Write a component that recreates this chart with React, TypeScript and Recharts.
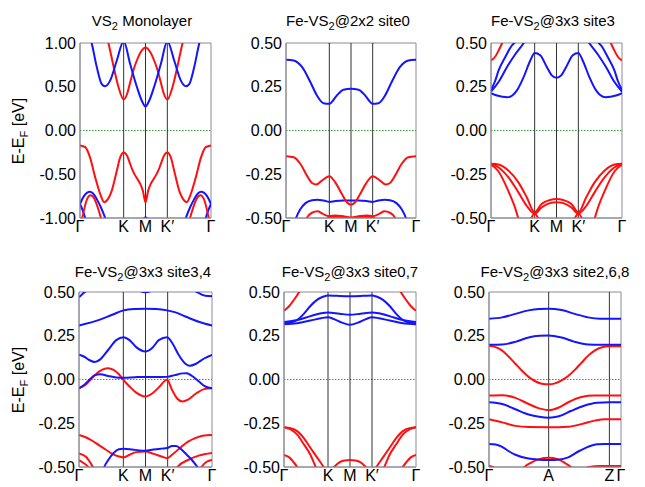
import React from "react";
import { LineChart, Line, XAxis, YAxis, ReferenceLine, ReferenceArea } from "recharts";

type Pt = [number, number];

const RED = "#ff1010";
const BLUE = "#1414ff";
const FONT = "'Liberation Sans', Arial, sans-serif";

const HEX_TICKS = [0, 1 / 3, 0.5, 2 / 3, 1];
const HEX_LABELS = ["Γ", "K", "M", "K′", "Γ"];
const HEX_LINES = [1 / 3, 0.5, 2 / 3];
const CHAIN_TICKS = [0, 0.452, 0.912, 1];
const CHAIN_LABELS = ["Γ", "A", "Z", "Γ"];
const CHAIN_LINES = [0.452, 0.912];
const WIDE_TICKS = [-1, -0.5, 0, 0.5, 1];
const NARROW_TICKS = [-0.5, -0.25, 0, 0.25, 0.5];

// VS2 monolayer
const monoRedVal: Pt[] = [[0, -0.17], [0.04, -0.19], [0.077, -0.31], [0.115, -0.53], [0.153, -0.72], [0.185, -0.82], [0.205, -0.8], [0.242, -0.69], [0.281, -0.46], [0.306, -0.31], [0.333, -0.25], [0.36, -0.29], [0.38, -0.37], [0.4, -0.45], [0.42, -0.51], [0.44, -0.56], [0.46, -0.61], [0.48, -0.69], [0.5, -0.82], [0.52, -0.69], [0.54, -0.61], [0.56, -0.56], [0.58, -0.51], [0.6, -0.45], [0.62, -0.37], [0.64, -0.29], [0.667, -0.25], [0.694, -0.31], [0.719, -0.46], [0.758, -0.69], [0.795, -0.8], [0.815, -0.82], [0.847, -0.72], [0.885, -0.53], [0.923, -0.31], [0.96, -0.19], [1, -0.17]];
const monoRedCond: Pt[] = [[0.19, 1.15], [0.217, 1.0], [0.255, 0.74], [0.293, 0.5], [0.333, 0.355], [0.36, 0.42], [0.383, 0.55], [0.41, 0.7], [0.434, 0.8], [0.465, 0.9], [0.5, 0.95], [0.535, 0.9], [0.566, 0.8], [0.59, 0.7], [0.617, 0.55], [0.64, 0.42], [0.667, 0.355], [0.707, 0.5], [0.745, 0.74], [0.783, 1.0], [0.81, 1.15]];
const monoBlueCond: Pt[] = [[0.07, 1.1], [0.089, 1.0], [0.128, 0.725], [0.166, 0.53], [0.191, 0.505], [0.23, 0.57], [0.281, 0.8], [0.333, 1.02], [0.383, 0.76], [0.434, 0.5], [0.472, 0.34], [0.5, 0.275], [0.528, 0.34], [0.566, 0.5], [0.617, 0.76], [0.667, 1.02], [0.719, 0.8], [0.77, 0.57], [0.809, 0.505], [0.834, 0.53], [0.872, 0.725], [0.911, 1.0], [0.93, 1.1]];
const monoBlueValL: Pt[] = [[0, -0.84], [0.03, -0.75], [0.055, -0.71], [0.075, -0.7], [0.1, -0.72], [0.13, -0.79], [0.16, -0.88], [0.19, -0.99], [0.21, -1.07]];
const monoBlueValR: Pt[] = [[0.79, -1.07], [0.81, -0.99], [0.84, -0.88], [0.87, -0.79], [0.9, -0.72], [0.925, -0.7], [0.945, -0.71], [0.97, -0.75], [1, -0.84]];
const monoBlueLowL: Pt[] = [[0, -0.84], [0.02, -0.91], [0.04, -1.0], [0.06, -1.1]];
const monoBlueLowR: Pt[] = [[0.94, -1.1], [0.96, -1.0], [0.98, -0.91], [1, -0.84]];
const monoRedLowL: Pt[] = [[0, -1.12], [0.02, -0.98], [0.05, -0.8], [0.08, -0.74], [0.11, -0.78], [0.14, -0.9], [0.16, -1.0], [0.18, -1.1]];
const monoRedLowR: Pt[] = [[0.82, -1.1], [0.84, -1.0], [0.86, -0.9], [0.89, -0.78], [0.92, -0.74], [0.95, -0.8], [0.98, -0.98], [1, -1.12]];
const monoBlueM: Pt[] = [[0.44, -1.1], [0.5, -0.995], [0.56, -1.1]];

// Fe-VS2@2x2 site0
const s0Blue1: Pt[] = [[0, 0.405], [0.059, 0.4], [0.123, 0.363], [0.187, 0.277], [0.238, 0.2], [0.289, 0.156], [0.333, 0.153], [0.391, 0.2], [0.442, 0.233], [0.5, 0.239], [0.558, 0.233], [0.609, 0.2], [0.667, 0.153], [0.711, 0.156], [0.762, 0.2], [0.813, 0.277], [0.877, 0.363], [0.941, 0.4], [1, 0.405]];
const s0Red1: Pt[] = [[0, -0.147], [0.059, -0.153], [0.11, -0.19], [0.161, -0.258], [0.2, -0.3], [0.233, -0.309], [0.276, -0.286], [0.333, -0.261], [0.379, -0.296], [0.43, -0.363], [0.468, -0.41], [0.5, -0.424], [0.532, -0.41], [0.57, -0.363], [0.621, -0.296], [0.667, -0.261], [0.724, -0.286], [0.767, -0.309], [0.8, -0.3], [0.839, -0.258], [0.89, -0.19], [0.941, -0.153], [1, -0.147]];
const s0Blue2: Pt[] = [[0.05, -0.56], [0.077, -0.5], [0.11, -0.45], [0.15, -0.415], [0.2, -0.398], [0.24, -0.395], [0.29, -0.4], [0.333, -0.408], [0.38, -0.403], [0.44, -0.4], [0.5, -0.4], [0.56, -0.4], [0.62, -0.403], [0.667, -0.408], [0.71, -0.4], [0.76, -0.395], [0.8, -0.398], [0.85, -0.415], [0.89, -0.45], [0.923, -0.5], [0.95, -0.56]];
const s0Red2: Pt[] = [[0.13, -0.56], [0.16, -0.5], [0.2, -0.47], [0.243, -0.462], [0.28, -0.475], [0.333, -0.49], [0.38, -0.485], [0.43, -0.488], [0.5, -0.497], [0.57, -0.488], [0.62, -0.485], [0.667, -0.49], [0.72, -0.475], [0.757, -0.462], [0.8, -0.47], [0.84, -0.5], [0.87, -0.56]];
const s0Red3: Pt[] = [[0.28, -0.53], [0.333, -0.497], [0.4, -0.493], [0.5, -0.5], [0.6, -0.493], [0.667, -0.497], [0.72, -0.53]];
const s0RedTop: Pt[] = [[0.31, 0.56], [0.333, 0.499], [0.356, 0.56], [0.5, 0.7], [0.644, 0.56], [0.667, 0.499], [0.69, 0.56]];

// Fe-VS2@3x3 site3
const s3Blue1: Pt[] = [[0, 0.214], [0.046, 0.2], [0.127, 0.19], [0.198, 0.229], [0.249, 0.305], [0.3, 0.4], [0.333, 0.443], [0.376, 0.43], [0.426, 0.363], [0.464, 0.315], [0.5, 0.301], [0.536, 0.315], [0.574, 0.363], [0.624, 0.43], [0.667, 0.443], [0.7, 0.4], [0.751, 0.305], [0.802, 0.229], [0.873, 0.19], [0.954, 0.2], [1, 0.214]];
const s3Blue2: Pt[] = [[0, 0.222], [0.06, 0.28], [0.12, 0.36], [0.18, 0.43], [0.25, 0.5], [0.3, 0.56], [0.5, 0.7], [0.7, 0.56], [0.75, 0.5], [0.82, 0.43], [0.88, 0.36], [0.94, 0.28], [1, 0.222]];
const s3Blue3: Pt[] = [[0, 0.232], [0.03, 0.28], [0.058, 0.343], [0.109, 0.42], [0.16, 0.487], [0.178, 0.5], [0.21, 0.54], [0.5, 0.8], [0.79, 0.54], [0.822, 0.5], [0.84, 0.487], [0.891, 0.42], [0.942, 0.343], [0.97, 0.28], [1, 0.232]];
const s3RedTop: Pt[] = [[0, 0.4], [0.03, 0.42], [0.06, 0.46], [0.085, 0.5], [0.11, 0.55], [0.5, 0.8], [0.89, 0.55], [0.915, 0.5], [0.94, 0.46], [0.97, 0.42], [1, 0.4]];
const s3Red1: Pt[] = [[0, -0.19], [0.056, -0.194], [0.132, -0.228], [0.208, -0.295], [0.272, -0.38], [0.333, -0.468], [0.386, -0.42], [0.449, -0.397], [0.5, -0.391], [0.551, -0.397], [0.614, -0.42], [0.667, -0.468], [0.728, -0.38], [0.792, -0.295], [0.868, -0.228], [0.944, -0.194], [1, -0.19]];
const s3Red2: Pt[] = [[0, -0.19], [0.056, -0.21], [0.132, -0.267], [0.208, -0.352], [0.272, -0.43], [0.333, -0.475], [0.386, -0.44], [0.449, -0.415], [0.5, -0.41], [0.551, -0.415], [0.614, -0.44], [0.667, -0.475], [0.728, -0.43], [0.792, -0.352], [0.868, -0.267], [0.944, -0.21], [1, -0.19]];
const s3Red3: Pt[] = [[0, -0.195], [0.056, -0.233], [0.132, -0.345], [0.183, -0.44], [0.208, -0.5], [0.23, -0.55], [0.5, -0.8], [0.77, -0.55], [0.792, -0.5], [0.817, -0.44], [0.868, -0.345], [0.944, -0.233], [1, -0.195]];
const s3Red4: Pt[] = [[0.29, -0.53], [0.333, -0.475], [0.38, -0.53], [0.5, -0.7], [0.62, -0.53], [0.667, -0.475], [0.71, -0.53]];

// Fe-VS2@3x3 site3,4
const s34BlueTop: Pt[] = [[0, 0.47], [0.06, 0.51], [0.2, 0.56], [0.44, 0.51], [0.5, 0.499], [0.56, 0.51], [0.7, 0.56], [0.86, 0.51], [0.95, 0.478], [1, 0.475]];
const s34Blue2: Pt[] = [[0, 0.309], [0.158, 0.342], [0.25, 0.37], [0.335, 0.395], [0.42, 0.403], [0.5, 0.405], [0.58, 0.403], [0.6625, 0.395], [0.72, 0.385], [0.8, 0.36], [0.9, 0.33], [1, 0.309]];
const s34Blue3: Pt[] = [[0, 0.141], [0.04, 0.13], [0.08, 0.11], [0.12, 0.1], [0.16, 0.115], [0.22, 0.17], [0.28, 0.225], [0.335, 0.242], [0.38, 0.225], [0.43, 0.185], [0.5, 0.16], [0.55, 0.18], [0.6, 0.225], [0.6625, 0.242], [0.7, 0.21], [0.75, 0.14], [0.8, 0.09], [0.8325, 0.078], [0.88, 0.09], [0.94, 0.12], [1, 0.141]];
const s34Blue4: Pt[] = [[0, -0.05], [0.04, -0.03], [0.08, 0.0], [0.12, 0.025], [0.16, 0.03], [0.22, 0.02], [0.28, 0.012], [0.335, 0.01], [0.42, 0.013], [0.5, 0.015], [0.58, 0.014], [0.6625, 0.015], [0.72, 0.025], [0.78, 0.035], [0.81, 0.036], [0.85, 0.02], [0.9, -0.01], [0.95, -0.04], [1, -0.05]];
const s34Red1: Pt[] = [[0, -0.05], [0.05, -0.03], [0.1, 0.01], [0.15, 0.045], [0.2, 0.063], [0.22, 0.065], [0.26, 0.055], [0.3, 0.03], [0.335, -0.004], [0.38, -0.04], [0.43, -0.075], [0.5, -0.097], [0.55, -0.08], [0.6, -0.045], [0.6625, -0.002], [0.7, -0.06], [0.74, -0.11], [0.7775, -0.126], [0.82, -0.115], [0.88, -0.08], [0.94, -0.055], [1, -0.05]];
const s34Red2: Pt[] = [[0, -0.317], [0.05, -0.33], [0.1, -0.35], [0.15, -0.375], [0.2, -0.4], [0.25, -0.425], [0.3, -0.44], [0.335, -0.445], [0.38, -0.43], [0.43, -0.415], [0.5, -0.412], [0.56, -0.425], [0.62, -0.44], [0.6625, -0.45], [0.7, -0.43], [0.77, -0.384], [0.82, -0.355], [0.87, -0.336], [0.93, -0.322], [1, -0.317]];
const s34Red3: Pt[] = [[0, -0.422], [0.05, -0.44], [0.105, -0.5], [0.14, -0.55], [0.5, -0.8], [0.7, -0.55], [0.74, -0.5], [0.82, -0.46], [0.9, -0.435], [1, -0.42]];
const s34Red4: Pt[] = [[0, -0.46], [0.04, -0.48], [0.07, -0.5], [0.1, -0.54], [0.5, -0.8], [0.89, -0.54], [0.92, -0.5], [0.96, -0.47], [1, -0.46]];
const s34Blue5: Pt[] = [[0.17, -0.55], [0.19, -0.5], [0.22, -0.46], [0.26, -0.42], [0.3, -0.398], [0.335, -0.395], [0.4, -0.4], [0.45, -0.405], [0.5, -0.407], [0.56, -0.4], [0.62, -0.395], [0.6625, -0.392], [0.7, -0.38], [0.73, -0.38], [0.77, -0.4], [0.81, -0.43], [0.86, -0.47], [0.89, -0.5], [0.91, -0.53]];

// Fe-VS2@3x3 site0,7
const s07Blue1: Pt[] = [[0, 0.322], [0.05, 0.325], [0.1, 0.34], [0.15, 0.375], [0.2, 0.42], [0.25, 0.455], [0.3, 0.474], [0.333, 0.48], [0.4, 0.478], [0.5, 0.476], [0.6, 0.478], [0.667, 0.48], [0.7, 0.474], [0.75, 0.455], [0.8, 0.42], [0.85, 0.375], [0.9, 0.34], [0.95, 0.325], [1, 0.322]];
const s07Blue2: Pt[] = [[0, 0.328], [0.1, 0.34], [0.2, 0.362], [0.28, 0.378], [0.333, 0.383], [0.42, 0.376], [0.5, 0.37], [0.58, 0.376], [0.667, 0.383], [0.72, 0.378], [0.8, 0.362], [0.9, 0.34], [1, 0.328]];
const s07Blue3: Pt[] = [[0, 0.316], [0.1, 0.322], [0.2, 0.337], [0.28, 0.35], [0.333, 0.356], [0.38, 0.345], [0.44, 0.325], [0.5, 0.313], [0.56, 0.325], [0.62, 0.345], [0.667, 0.356], [0.72, 0.35], [0.8, 0.337], [0.9, 0.322], [1, 0.316]];
const s07RedTop: Pt[] = [[0, 0.393], [0.04, 0.42], [0.08, 0.46], [0.115, 0.5], [0.15, 0.55], [0.5, 0.8], [0.85, 0.55], [0.885, 0.5], [0.92, 0.46], [0.96, 0.42], [1, 0.393]];
const s07Red1: Pt[] = [[0, -0.273], [0.05, -0.278], [0.1, -0.295], [0.15, -0.335], [0.2, -0.39], [0.25, -0.445], [0.3, -0.5], [0.33, -0.54], [0.5, -0.8], [0.67, -0.54], [0.7, -0.5], [0.75, -0.445], [0.8, -0.39], [0.85, -0.335], [0.9, -0.295], [0.95, -0.278], [1, -0.273]];
const s07Red2: Pt[] = [[0, -0.273], [0.05, -0.285], [0.1, -0.315], [0.15, -0.37], [0.2, -0.43], [0.24, -0.5], [0.27, -0.55], [0.5, -0.8], [0.73, -0.55], [0.76, -0.5], [0.8, -0.43], [0.85, -0.37], [0.9, -0.315], [0.95, -0.285], [1, -0.273]];
const s07Red3: Pt[] = [[0, -0.431], [0.04, -0.445], [0.07, -0.47], [0.1, -0.5], [0.13, -0.54], [0.5, -0.8], [0.87, -0.54], [0.9, -0.5], [0.93, -0.47], [0.96, -0.445], [1, -0.431]];
const s07RedM: Pt[] = [[0.34, -0.54], [0.38, -0.5], [0.42, -0.473], [0.46, -0.463], [0.5, -0.46], [0.54, -0.463], [0.58, -0.473], [0.62, -0.5], [0.66, -0.54]];

// Fe-VS2@3x3 site2,6,8
const s268Blue1: Pt[] = [[0, 0.347], [0.1, 0.355], [0.2, 0.375], [0.3, 0.395], [0.38, 0.403], [0.452, 0.405], [0.55, 0.397], [0.65, 0.375], [0.75, 0.355], [0.84, 0.347], [0.912, 0.347], [1, 0.347]];
const s268Blue2: Pt[] = [[0, 0.198], [0.1, 0.2], [0.2, 0.215], [0.3, 0.24], [0.38, 0.25], [0.452, 0.252], [0.55, 0.24], [0.65, 0.215], [0.75, 0.2], [0.85, 0.198], [1, 0.198]];
const s268Red1: Pt[] = [[0, 0.193], [0.05, 0.185], [0.1, 0.165], [0.15, 0.13], [0.2, 0.09], [0.25, 0.05], [0.3, 0.015], [0.35, -0.01], [0.4, -0.024], [0.452, -0.027], [0.5, -0.022], [0.55, -0.005], [0.6, 0.02], [0.65, 0.055], [0.7, 0.095], [0.75, 0.135], [0.8, 0.165], [0.85, 0.183], [0.912, 0.19], [1, 0.19]];
const s268Red2: Pt[] = [[0, -0.092], [0.1, -0.09], [0.2, -0.105], [0.3, -0.14], [0.38, -0.165], [0.452, -0.175], [0.53, -0.16], [0.6, -0.13], [0.7, -0.1], [0.8, -0.092], [1, -0.092]];
const s268Blue3: Pt[] = [[0, -0.13], [0.1, -0.14], [0.2, -0.17], [0.3, -0.2], [0.38, -0.213], [0.452, -0.218], [0.53, -0.21], [0.62, -0.18], [0.72, -0.15], [0.82, -0.133], [0.912, -0.13], [1, -0.13]];
const s268Red3: Pt[] = [[0, -0.227], [0.1, -0.245], [0.2, -0.265], [0.3, -0.272], [0.452, -0.273], [0.6, -0.27], [0.7, -0.255], [0.8, -0.235], [0.88, -0.227], [1, -0.227]];
const s268Blue4: Pt[] = [[0, -0.368], [0.05, -0.372], [0.1, -0.385], [0.15, -0.41], [0.2, -0.43], [0.3, -0.452], [0.38, -0.458], [0.452, -0.46], [0.52, -0.458], [0.6, -0.445], [0.68, -0.41], [0.75, -0.385], [0.82, -0.37], [0.88, -0.368], [1, -0.368]];
const s268Red4: Pt[] = [[0.24, -0.53], [0.27, -0.5], [0.32, -0.475], [0.38, -0.455], [0.452, -0.447], [0.52, -0.455], [0.58, -0.48], [0.62, -0.5], [0.66, -0.53]];
const s268Red5: Pt[] = [[0, -0.494], [0.03, -0.5], [0.08, -0.53], [0.4, -0.6], [0.68, -0.53], [0.76, -0.5], [0.84, -0.494], [1, -0.494]];

interface Band {
  color: string;
  pts: Pt[];
}

interface PanelProps {
  left: number;
  top: number;
  w: number;
  h: number;
  yDomain: [number, number];
  yTicks: number[];
  xTicks: number[];
  xLabels: string[];
  vLines: number[];
  bands: Band[];
}

function Panel({ left, top, w, h, yDomain, yTicks, xTicks, xLabels, vLines, bands }: PanelProps) {
  const padL = 60;
  const padT = 10;
  const padB = 25;
  const padR = 10;
  return (
    <div style={{ position: "absolute", left: left - padL, top: top - padT }}>
      <LineChart
        width={w + padL + padR}
        height={h + padT + padB}
        margin={{ top: padT, right: padR, bottom: 0, left: 0 }}
      >
        <XAxis
          type="number"
          dataKey="k"
          domain={[0, 1]}
          allowDataOverflow
          ticks={xTicks}
          interval={0}
          tickFormatter={(_v: number, i: number) => xLabels[i]}
          tickLine={false}
          tickSize={2}
          tickMargin={1}
          axisLine={{ stroke: "#8a8a98" }}
          tick={{ fill: "#000", fontSize: 16, fontFamily: FONT }}
          height={padB}
        />
        <YAxis
          type="number"
          domain={yDomain}
          allowDataOverflow
          ticks={yTicks}
          interval={0}
          tickFormatter={(v: number) => v.toFixed(2)}
          tickLine={false}
          tickSize={2}
          tickMargin={2}
          axisLine={{ stroke: "#8a8a98" }}
          tick={{ fill: "#000", fontSize: 16, fontFamily: FONT }}
          width={padL}
        />
        <ReferenceArea
          x1={0}
          x2={1}
          y1={yDomain[0]}
          y2={yDomain[1]}
          fill="none"
          stroke="#8a8a98"
          strokeWidth={1}
        />
        <ReferenceLine y={0} stroke="#3c9c3c" strokeDasharray="1.5 1.5" strokeWidth={1} />
        {vLines.map((x) => (
          <ReferenceLine key={x} x={x} stroke="#333" strokeWidth={1} />
        ))}
        {bands.map((b, i) => (
          <Line
            key={i}
            data={b.pts.map(([k, e]) => ({ k, e }))}
            dataKey="e"
            type="monotone"
            stroke={b.color}
            strokeWidth={2}
            dot={false}
            activeDot={false}
            isAnimationActive={false}
          />
        ))}
      </LineChart>
    </div>
  );
}

const r = (pts: Pt[]): Band => ({ color: RED, pts });
const b = (pts: Pt[]): Band => ({ color: BLUE, pts });

function Title({ x, y, pre, post }: { x: number; y: number; pre: string; post: string }) {
  return (
    <text x={x} y={y} textAnchor="middle" fontSize={15} fontFamily={FONT} fill="#000">
      {pre}
      <tspan dy={4} fontSize={11}>2</tspan>
      <tspan dy={-4}>{post}</tspan>
    </text>
  );
}

function YLabel({ x, y }: { x: number; y: number }) {
  return (
    <text transform={`translate(${x},${y}) rotate(-90)`} textAnchor="middle" fontSize={16} fontFamily={FONT} fill="#000">
      E-E
      <tspan dy={4} fontSize={11}>F</tspan>
      <tspan dy={-4}> [eV]</tspan>
    </text>
  );
}

export default function App() {
  const H = 175;
  return (
    <div style={{ position: "absolute", left: 0, top: 0, width: 645, height: 487, background: "#fff", overflow: "hidden" }}>
      <Panel left={80} top={43} w={131} h={H} yDomain={[-1, 1]} yTicks={WIDE_TICKS} xTicks={HEX_TICKS} xLabels={HEX_LABELS} vLines={HEX_LINES}
        bands={[b(monoBlueValL), b(monoBlueValR), b(monoBlueLowL), b(monoBlueLowR), b(monoBlueM), r(monoRedLowL), r(monoRedLowR), r(monoRedVal), r(monoRedCond), b(monoBlueCond)]} />
      <Panel left={286} top={43} w={130} h={H} yDomain={[-0.5, 0.5]} yTicks={NARROW_TICKS} xTicks={HEX_TICKS} xLabels={HEX_LABELS} vLines={HEX_LINES}
        bands={[r(s0Red3), r(s0Red2), b(s0Blue2), r(s0Red1), b(s0Blue1), r(s0RedTop)]} />
      <Panel left={491} top={43} w={131} h={H} yDomain={[-0.5, 0.5]} yTicks={NARROW_TICKS} xTicks={HEX_TICKS} xLabels={HEX_LABELS} vLines={HEX_LINES}
        bands={[r(s3Red4), r(s3Red3), r(s3Red2), r(s3Red1), r(s3RedTop), b(s3Blue3), b(s3Blue2), b(s3Blue1)]} />
      <Panel left={79} top={292} w={133} h={H} yDomain={[-0.5, 0.5]} yTicks={NARROW_TICKS} xTicks={HEX_TICKS} xLabels={HEX_LABELS} vLines={HEX_LINES}
        bands={[r(s34Red4), r(s34Red3), r(s34Red2), b(s34Blue5), r(s34Red1), b(s34Blue4), b(s34Blue3), b(s34Blue2), b(s34BlueTop)]} />
      <Panel left={284} top={292} w={132} h={H} yDomain={[-0.5, 0.5]} yTicks={NARROW_TICKS} xTicks={HEX_TICKS} xLabels={HEX_LABELS} vLines={HEX_LINES}
        bands={[r(s07RedM), r(s07Red3), r(s07Red2), r(s07Red1), r(s07RedTop), b(s07Blue3), b(s07Blue2), b(s07Blue1)]} />
      <Panel left={489} top={292} w={132} h={H} yDomain={[-0.5, 0.5]} yTicks={NARROW_TICKS} xTicks={CHAIN_TICKS} xLabels={CHAIN_LABELS} vLines={CHAIN_LINES}
        bands={[r(s268Red5), r(s268Red4), b(s268Blue4), r(s268Red3), b(s268Blue3), r(s268Red2), r(s268Red1), b(s268Blue2), b(s268Blue1)]} />
      <svg width={645} height={487} style={{ position: "absolute", left: 0, top: 0, pointerEvents: "none" }}>
        <Title x={142} y={26} pre="VS" post=" Monolayer" />
        <Title x={348} y={26} pre="Fe-VS" post="@2x2 site0" />
        <Title x={553} y={26} pre="Fe-VS" post="@3x3 site3" />
        <Title x={143} y={277} pre="Fe-VS" post="@3x3 site3,4" />
        <Title x={350} y={277} pre="Fe-VS" post="@3x3 site0,7" />
        <Title x={555} y={277} pre="Fe-VS" post="@3x3 site2,6,8" />
        <YLabel x={24} y={131} />
        <YLabel x={24} y={380} />
      </svg>
    </div>
  );
}
